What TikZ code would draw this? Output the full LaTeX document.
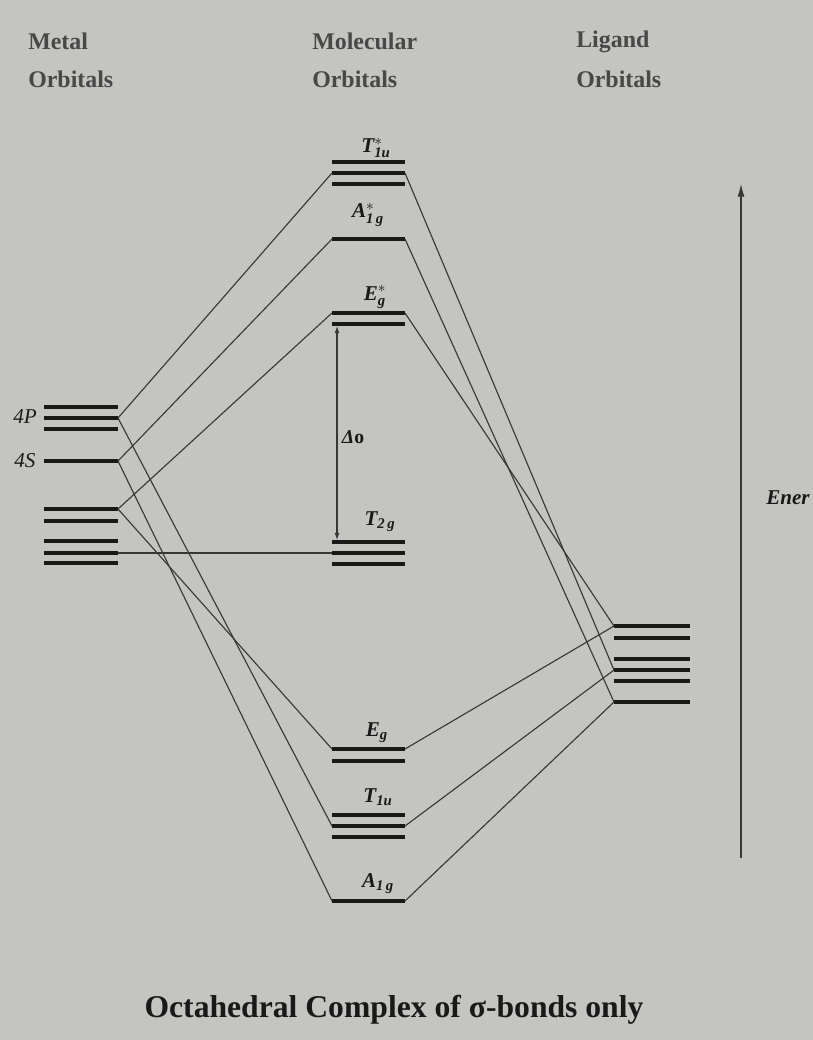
\documentclass[tikz,border=0pt]{standalone}
\usepackage{fontspec}
\usepackage{amsmath}
\setmainfont{Liberation Serif}
\usetikzlibrary{arrows.meta}
\usetikzlibrary{positioning}
\tikzset{>=latex}
\definecolor{paper}{RGB}{196,196,193}
\definecolor{ink}{RGB}{25,25,25}
\definecolor{pencil}{RGB}{55,55,55}
\definecolor{head}{RGB}{72,72,72}
\tikzstyle{orb} = [line width=2.4pt, draw=ink]
\tikzstyle{corr} = [-, line width=0.8pt, draw=pencil]
\tikzstyle{hdr} = [anchor=base west, inner sep=0pt, text=head, font=\fontsize{17}{20}\selectfont\bfseries]
\tikzstyle{lab} = [inner sep=0pt, text=ink, font=\fontsize{15}{18}\selectfont\bfseries]
\newcommand{\molab}[1]{$\textit{#1}$}

\begin{document}
\begin{tikzpicture}[x=0.025cm, y=-0.025cm]
\useasboundingbox (0,0) rectangle (812,1040);
\fill [paper] (-2,-2) rectangle (814,1042);
% headings
\node [hdr] (metal) at (28,49) {Metal};
\node [hdr] (metalo) at (28,87) {Orbitals};
\node [hdr] (mol) at (312,49) {Molecular};
\node [hdr] (molo) at (312,87) {Orbitals};
\node [hdr] (lig) at (576,47) {Ligand};
\node [hdr] (ligo) at (576,87) {Orbitals};
% energy levels
\foreach \y in {407,418,429,461,509,521,541,553,563}
  \draw [orb] (44,\y) -- (118,\y);
\foreach \y in {162,173,184,239,313,324,542,553,564,749,761,815,826,837,901}
  \draw [orb] (332,\y) -- (405,\y);
\foreach \y in {626,638,659,670,681,702}
  \draw [orb] (614,\y) -- (690,\y);
% end points
\coordinate (P) at (118,418);
\coordinate (S) at (118,461);
\coordinate (D) at (118,509);
\coordinate (D4) at (118,553);
\coordinate (T1uAl) at (332,173);
\coordinate (T1uAr) at (405,173);
\coordinate (A1gAl) at (332,239);
\coordinate (A1gAr) at (405,239);
\coordinate (EgAl) at (332,313);
\coordinate (EgAr) at (405,313);
\coordinate (EgAb) at (337,326);
\coordinate (T2gl) at (332,553);
\coordinate (T2gt) at (337,540);
\coordinate (Egl) at (332,749);
\coordinate (Egr) at (405,749);
\coordinate (T1ul) at (332,826);
\coordinate (T1ur) at (405,826);
\coordinate (A1gl) at (332,901);
\coordinate (A1gr) at (405,901);
\coordinate (L1) at (614,626);
\coordinate (L4) at (614,670);
\coordinate (L6) at (614,702);
% labels
\node [lab, font=\fontsize{15}{18}\selectfont\itshape] (p4) at (25,417) {4P};
\node [lab, font=\fontsize{15}{18}\selectfont\itshape] (s4) at (25,461) {4S};
\node [lab] (t1uA) at (376,148) {\molab{T}$^{*}_{\textit{1u}}$};
\node [lab] (a1gA) at (368,215) {\molab{A}$^{*}_{\textit{1\,g}}$};
\node [lab] (egA) at (375,297) {\molab{E}$^{*}_{\textit{g}}$};
\node [lab] (t2g) at (380,522) {\molab{T}$_{\textit{2\,g}}$};
\node [lab] (eg) at (377,733) {\molab{E}$_{\textit{g}}$};
\node [lab] (t1u) at (378,797) {\molab{T}$_{\textit{1u}}$};
\node [lab] (a1g) at (378,884) {\molab{A}$_{\textit{1\,g}}$};
\node [lab, font=\fontsize{14}{16}\selectfont\bfseries] (dlt) at (353,437) {\textit{Δ}o};
% correlation lines
\draw [corr] (P) -- (T1uAl);
\draw [corr] (P) -- (T1ul);
\draw [corr] (S) -- (A1gAl);
\draw [corr] (S) -- (A1gl);
\draw [corr] (D) -- (EgAl);
\draw [corr] (D) -- (Egl);
\draw [corr] (D4) -- (T2gl);
\draw [corr] (T1uAr) -- (L4);
\draw [corr] (A1gAr) -- (L6);
\draw [corr] (EgAr) -- (L1);
\draw [corr] (Egr) -- (L1);
\draw [corr] (T1ur) -- (L4);
\draw [corr] (A1gr) -- (L6);
% splitting
\draw [<->, line width=0.8pt, draw=pencil, >={Latex[length=5pt,width=3.5pt]}] (EgAb) -- (T2gt);
% energy axis
\coordinate (ebot) at (741,858);
\coordinate (etop) at (741,184);
\draw [->, line width=0.8pt, draw=pencil, >={Latex[length=9pt,width=5pt]}] (ebot) -- (etop);
\node [lab, anchor=west, font=\fontsize{15}{18}\selectfont\bfseries\itshape] (en) at (766,498) {Ener};
% caption
\node [inner sep=0pt, text=ink, font=\fontsize{22.5}{26}\selectfont\bfseries] (cap) at (394,1010) {Octahedral Complex of σ-bonds only};
\end{tikzpicture}
\end{document}
